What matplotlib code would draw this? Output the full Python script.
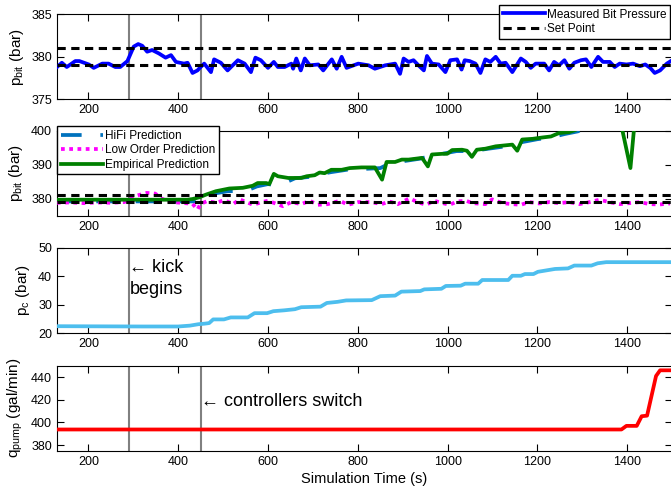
import numpy as np
import matplotlib
matplotlib.use('Agg')
import matplotlib.pyplot as plt

plt.rcParams['font.family'] = ['Liberation Sans', 'DejaVu Sans']
plt.rcParams['mathtext.default'] = 'regular'

# Measured bit pressure (bar)
t_meas = [126, 141, 152, 171, 180, 201, 212, 231, 245, 260, 271, 287, 301, 311, 320, 331, 342, 357,
          372, 384, 395, 413, 421, 432, 443, 450, 458, 473, 480, 495, 510, 533, 548, 562, 572, 584,
          600, 613, 622, 637, 652, 656, 663, 673, 682, 693, 712, 723, 742, 753, 764, 775, 801, 824,
          838, 861, 883, 894, 902, 913, 924, 935, 947, 954, 965, 980, 995, 1006, 1021, 1031, 1038,
          1049, 1062, 1073, 1084, 1095, 1107, 1118, 1129, 1144, 1163, 1174, 1185, 1196, 1215, 1226,
          1237, 1248, 1260, 1271, 1282, 1297, 1308, 1320, 1335, 1346, 1361, 1372, 1383, 1398, 1413,
          1428, 1440, 1451, 1461, 1473, 1488, 1503]
p_meas = [378.6, 379.3, 378.8, 379.5, 379.5, 379.1, 378.7, 379.2, 379.2, 378.8, 378.8, 379.5, 381.2,
          381.5, 381.3, 380.6, 380.8, 380.4, 379.9, 380.2, 379.4, 379.2, 379.3, 378.1, 378.4, 378.8,
          379.2, 378.2, 379.7, 379.3, 378.4, 379.6, 379.2, 378.2, 379.9, 379.6, 378.7, 379.4, 378.8,
          378.8, 379.2, 378.6, 379.8, 378.4, 379.8, 379.0, 379.1, 378.4, 379.7, 378.6, 380.0, 378.7,
          379.2, 379.0, 378.6, 379.0, 379.2, 378.0, 379.8, 379.4, 379.6, 379.0, 378.4, 380.1, 379.2,
          379.1, 378.2, 379.6, 379.7, 378.5, 379.6, 379.5, 379.2, 378.1, 379.7, 379.4, 380.0, 379.2,
          379.3, 378.2, 379.8, 379.4, 378.7, 379.2, 379.2, 378.4, 379.4, 379.0, 379.6, 378.6, 379.3,
          379.6, 379.7, 378.8, 380.0, 379.4, 379.4, 378.8, 379.2, 379.1, 379.2, 378.9, 379.1, 378.7,
          378.1, 378.4, 379.2, 379.7]
set_points = [379, 381]

# Predictions (bar)
t_hifi = [130, 450, 460, 480, 510, 545, 555, 575, 600, 615, 640, 660, 700, 720, 740, 760, 790, 820,
          850, 870, 900, 940, 960, 1000, 1020, 1060, 1080, 1140, 1160, 1200, 1230, 1260, 1290, 1310]
p_hifi = [379.2, 379.2, 380.0, 381.5, 382.2, 382.3, 382.5, 383.6, 384.3, 384.0, 384.8, 386.0, 386.5,
          387.3, 387.8, 388.2, 388.8, 388.8, 389.0, 390.3, 391.0, 391.8, 392.5, 393.5, 394.0, 394.0,
          394.5, 395.6, 396.5, 397.5, 398.0, 399.0, 399.8, 401.0]

t_low = [130, 160, 190, 220, 250, 280, 305, 330, 349, 363, 388, 432, 443, 450, 465, 485, 503, 522,
         537, 567, 586, 600, 633, 652, 674, 693, 711, 733, 760, 778, 801, 830, 853, 870, 889, 915,
         933, 952, 970, 989, 1004, 1022, 1041, 1055, 1084, 1099, 1122, 1144, 1163, 1181, 1204, 1226,
         1248, 1271, 1293, 1316, 1338, 1360, 1383, 1405, 1428, 1450, 1472, 1495]
p_low = [378.8, 378.9, 378.7, 378.9, 378.8, 379.0, 380.8, 381.7, 381.5, 380.0, 379.0, 378.5, 376.8,
         378.5, 379.3, 378.8, 379.6, 378.4, 379.8, 378.2, 379.0, 379.4, 377.8, 379.0, 378.4, 379.4,
         378.2, 378.4, 379.4, 378.2, 379.0, 379.0, 378.4, 379.2, 378.4, 380.1, 379.0, 378.2, 379.4,
         378.7, 378.2, 379.2, 379.4, 378.7, 378.4, 379.8, 378.7, 378.4, 378.2, 379.0, 378.6, 379.0,
         378.7, 379.0, 378.4, 379.0, 379.7, 379.0, 378.4, 378.7, 379.0, 378.4, 378.3, 378.6]

t_emp = [130, 420, 432, 447, 462, 484, 514, 544, 566, 577, 596, 603, 613, 622, 645, 674, 686, 704,
         715, 726, 741, 764, 782, 808, 838, 854, 864, 883, 898, 913, 943, 956, 965, 988, 999, 1010,
         1032, 1043, 1054, 1065, 1084, 1107, 1144, 1155, 1166, 1189, 1211, 1230, 1248, 1271, 1286,
         1300, 1386, 1407, 1416, 1500]
p_emp = [379.7, 379.7, 379.9, 380.4, 381.2, 382.2, 383.0, 383.2, 383.8, 384.6, 384.6, 384.3, 387.3,
         386.6, 386.1, 386.1, 386.6, 386.9, 387.7, 387.5, 388.5, 388.5, 389.0, 389.2, 389.2, 385.6,
         390.8, 390.8, 391.5, 391.5, 392.0, 389.5, 393.0, 393.2, 393.2, 394.3, 394.4, 394.1, 392.3,
         394.4, 394.7, 395.4, 395.9, 394.1, 397.4, 397.6, 398.0, 398.3, 399.3, 399.6, 400.3, 402.0,
         402.0, 389.0, 402.0, 402.0]

# Choke pressure (bar)
t_pc = [130, 320, 400, 426, 445, 459, 469, 478, 502, 517, 555, 570, 598, 612, 636, 660, 674, 717,
        731, 755, 774, 831, 850, 883, 897, 939, 948, 986, 996, 1029, 1039, 1068, 1077, 1135, 1144,
        1163, 1172, 1191, 1201, 1239, 1268, 1282, 1320, 1334, 1353, 1500]
p_c = [22.4, 22.3, 22.3, 22.6, 23.1, 23.3, 23.5, 24.8, 24.8, 25.5, 25.5, 27.0, 27.0, 27.7, 28.0, 28.4,
       29.1, 29.3, 30.6, 31.0, 31.5, 31.6, 33.0, 33.2, 34.6, 34.8, 35.4, 35.6, 36.6, 36.7, 37.4, 37.4,
       38.7, 38.7, 40.2, 40.2, 40.8, 40.8, 41.6, 42.6, 42.8, 43.8, 43.8, 44.6, 45.0, 45.0]

# Pump flow rate (gal/min)
t_q = [130, 1387, 1398, 1421, 1432, 1444, 1464, 1473, 1500]
q_pump = [393.8, 393.8, 397.0, 397.0, 405.5, 406.0, 441.0, 446.0, 446.0]

events = [290, 450]
xticks = [200, 400, 600, 800, 1000, 1200, 1400]

fig = plt.figure(figsize=(6.71, 4.90), dpi=100)
left, width, height = 0.0848, 0.917, 0.1735
bottoms = [0.7973, 0.5598, 0.3204, 0.0800]
axes = [fig.add_axes([left, b, width, height]) for b in bottoms]

for ax in axes:
    ax.set_xlim(130, 1500)
    ax.set_xticks(xticks)
    ax.tick_params(direction='in', length=5, width=0.8, top=True, right=True, labelsize=9)
    for s in ax.spines.values():
        s.set_linewidth(0.8)
    for e in events:
        ax.axvline(e, color='#808080', lw=1.5, zorder=1)

lw = 2.7
sp_style = dict(color='black', lw=2.2, ls=(0, (2.7, 1.8)), zorder=4)
ax1, ax2, ax3, ax4 = axes

ax1.plot(t_meas, p_meas, color='#0000ff', lw=lw, label='Measured Bit Pressure', zorder=3)
for i, sp in enumerate(set_points):
    ax1.axhline(sp, label='Set Point' if i == 0 else None, **sp_style)
ax1.set_ylim(375, 385)
ax1.set_yticks([375, 380, 385])
ax1.set_ylabel('p$_{bit}$ (bar)', fontsize=11)
ax1.legend(loc='upper left', bbox_to_anchor=(499 / 671, 1 - 5 / 490), bbox_transform=fig.transFigure,
           fontsize=8.5, handlelength=3.6, handletextpad=0.15, borderpad=0.3, labelspacing=0.25,
           fancybox=False, framealpha=1, edgecolor='black', borderaxespad=0)

ax2.plot(t_hifi, p_hifi, color='#0072bd', lw=lw, ls=(0, (5.5, 5)), label='HiFi Prediction', zorder=3)
ax2.plot(t_low, p_low, color='#ff00ff', lw=lw, ls=(0, (1, 1.2)), label='Low Order Prediction', zorder=3)
ax2.plot(t_emp, p_emp, color='#008000', lw=lw, label='Empirical Prediction', zorder=3)
for sp in set_points:
    ax2.axhline(sp, **sp_style)
ax2.set_ylim(375, 400)
ax2.set_yticks([380, 390, 400])
ax2.set_ylabel('p$_{bit}$ (bar)', fontsize=11)
leg2 = ax2.legend(loc='upper left', bbox_to_anchor=(57 / 671, 1 - 126.5 / 490), bbox_transform=fig.transFigure,
                  fontsize=8.5, handlelength=3.6, handletextpad=0.2, borderpad=0.3, labelspacing=0.2,
                  fancybox=False, framealpha=1, edgecolor='black', borderaxespad=0)
leg2.set_zorder(10)

ax3.plot(t_pc, p_c, color='#4dbeee', lw=lw, zorder=3)
ax3.set_ylim(20, 50)
ax3.set_yticks([20, 30, 40, 50])
ax3.set_ylabel('p$_c$ (bar)', fontsize=11)
ax3.text(291, 39.3, '\u2190 kick\nbegins', fontsize=13, ha='left', va='center', linespacing=1.35,
         multialignment='center', family=['Liberation Sans', 'DejaVu Sans'])

ax4.plot(t_q, q_pump, color='#ff0000', lw=lw, zorder=3)
ax4.set_ylim(375, 450)
ax4.set_yticks([380, 400, 420, 440])
ax4.set_ylabel('q$_{pump}$ (gal/min)', fontsize=11)
ax4.set_xlabel('Simulation Time (s)', fontsize=10.5, labelpad=3)
ax4.text(451, 418.5, '\u2190 controllers switch', fontsize=13, ha='left', va='center',
         family=['Liberation Sans', 'DejaVu Sans'])

fig.savefig('out.png', dpi=100)
